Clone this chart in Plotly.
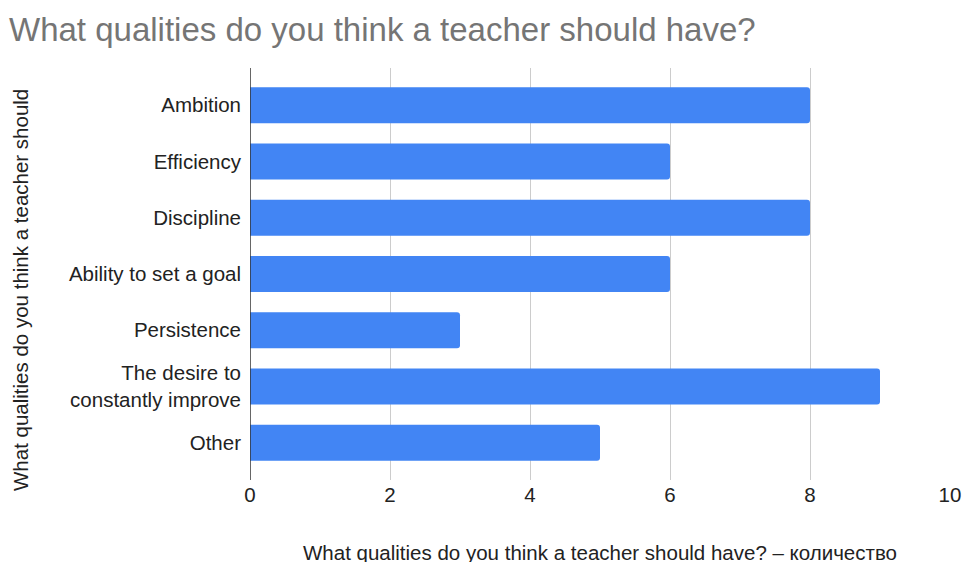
import plotly.graph_objects as go

categories = [
    "Ambition",
    "Efficiency",
    "Discipline",
    "Ability to set a goal",
    "Persistence",
    "The desire to<br>constantly improve",
    "Other",
]
counts = [8, 6, 8, 6, 3, 9, 5]
x_ticks = [0, 2, 4, 6, 8, 10]

title_text = "What qualities do you think a teacher should have?"
y_title_text = "What qualities do you think a teacher should"
x_title_text = "What qualities do you think a teacher should have? – количество"

W, H = 963, 562
L, R, T, B = 250, 13, 68, 82
plot_w = W - L - R
plot_h = H - T - B

def px_x(px):
    return (px - L) / plot_w

def px_y(py):
    return (H - B - py) / plot_h

fig = go.Figure(
    go.Bar(
        x=counts,
        y=categories,
        orientation="h",
        width=0.64,
        marker=dict(color="#4285F4", cornerradius=3, line=dict(width=0)),
        hoverinfo="x+y",
    )
)

font_family = "Liberation Sans, Arial, sans-serif"
label_size = 20.5

fig.update_layout(
    width=W,
    height=H,
    margin=dict(l=L, r=R, t=T, b=B, autoexpand=False),
    paper_bgcolor="white",
    plot_bgcolor="white",
    showlegend=False,
    font=dict(family=font_family, color="#222222"),
    title=dict(
        text=title_text,
        font=dict(family=font_family, size=33, color="#757575"),
        xref="container",
        yref="container",
        x=9 / W,
        y=1 - 29 / H,
        xanchor="left",
        yanchor="middle",
    ),
    xaxis=dict(
        range=[0, 10],
        tickvals=x_ticks,
        ticktext=[str(v) for v in x_ticks],
        showgrid=True,
        gridcolor="#cccccc",
        gridwidth=1,
        zeroline=False,
        showline=False,
        ticks="",
        automargin=False,
        tickfont=dict(size=label_size, color="#222222"),
        fixedrange=True,
    ),
    yaxis=dict(
        range=[6.66, -0.66],
        showgrid=False,
        zeroline=False,
        showline=False,
        ticks="",
        automargin=False,
        ticklabelstandoff=8,
        tickfont=dict(size=label_size, color="#222222"),
        fixedrange=True,
    ),
    shapes=[
        dict(
            type="line",
            xref="x",
            yref="paper",
            x0=0,
            x1=0,
            y0=0,
            y1=1,
            line=dict(color="#333333", width=1.5),
            layer="above",
        )
    ],
    annotations=[
        dict(
            text=y_title_text,
            xref="paper",
            yref="paper",
            x=px_x(20),
            y=px_y(290),
            textangle=-90,
            showarrow=False,
            xanchor="center",
            yanchor="middle",
            font=dict(family=font_family, size=label_size, color="#222222"),
        ),
        dict(
            text=x_title_text,
            xref="paper",
            yref="paper",
            x=px_x(600),
            y=px_y(552),
            showarrow=False,
            xanchor="center",
            yanchor="middle",
            font=dict(family=font_family, size=label_size, color="#222222"),
        ),
    ],
)

fig.write_html("out.html")
